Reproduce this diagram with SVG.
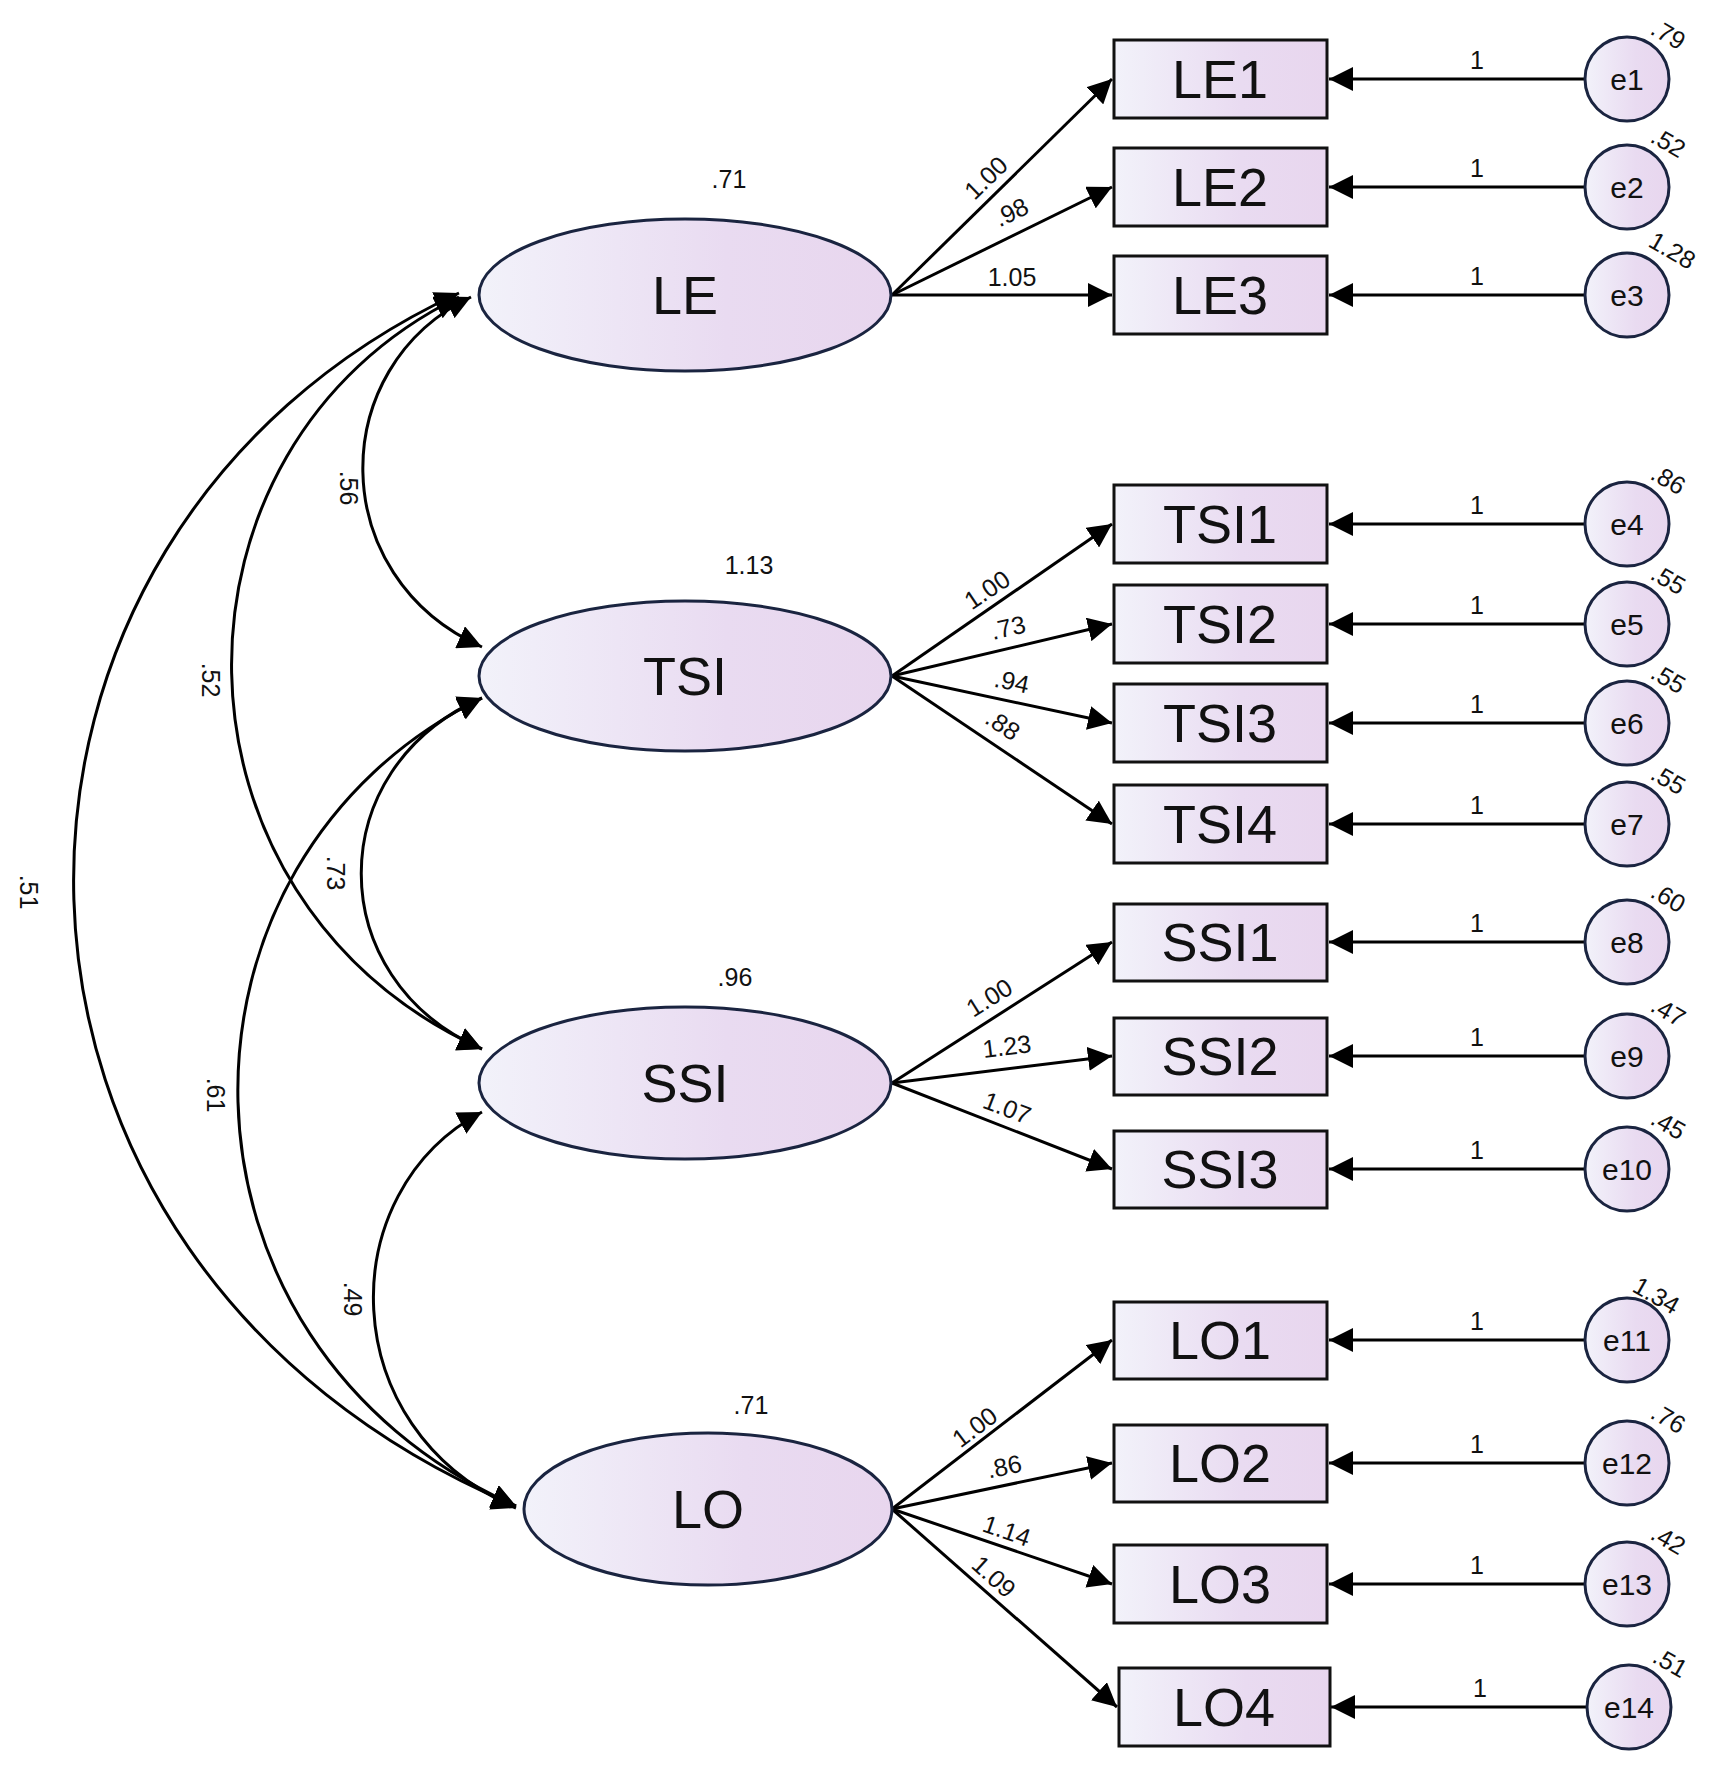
<svg xmlns="http://www.w3.org/2000/svg" width="1713" height="1778" viewBox="0 0 1713 1778">
<defs>
<linearGradient id="g" x1="0" y1="0" x2="1" y2="0"><stop offset="0" stop-color="#f2f2fa"/><stop offset="0.6" stop-color="#e9dbf1"/><stop offset="1" stop-color="#e8d6ee"/></linearGradient>
<marker id="ah" viewBox="0 0 10 10" refX="10" refY="5" markerWidth="24" markerHeight="24" markerUnits="userSpaceOnUse" orient="auto-start-reverse"><path d="M0,0 L10,5 L0,10 Z" fill="#000"/></marker>
<style>
.lat{fill:url(#g);stroke:#1a2440;stroke-width:3}
.box{fill:url(#g);stroke:#111;stroke-width:3}
.err{fill:url(#g);stroke:#1a2440;stroke-width:3}
.ln{stroke:#000;stroke-width:3;fill:none}
.big{font-family:"Liberation Sans",sans-serif;font-size:54px;text-anchor:middle;fill:#111}
.mid{font-family:"Liberation Sans",sans-serif;font-size:30px;text-anchor:middle;fill:#111}
.sm{font-family:"Liberation Sans",sans-serif;font-size:25px;text-anchor:middle;fill:#111}
</style>
</defs>
<rect width="1713" height="1778" fill="#fff"/>
<g id="connectors">
<!-- covariances -->
<path class="ln" d="M471,297 C325,367 325,577 482,647" marker-start="url(#ah)" marker-end="url(#ah)"/>
<path class="ln" d="M459,297 C152,447 152,899 482,1049" marker-start="url(#ah)" marker-end="url(#ah)"/>
<path class="ln" d="M459,293 C-64,536 -64,1263 516,1506" marker-start="url(#ah)" marker-end="url(#ah)"/>
<path class="ln" d="M482,698 C321,768 321,979 482,1049" marker-start="url(#ah)" marker-end="url(#ah)"/>
<path class="ln" d="M482,698 C151,860 151,1344 516,1506" marker-start="url(#ah)" marker-end="url(#ah)"/>
<path class="ln" d="M482,1112 C332,1191 332,1429 516,1508" marker-start="url(#ah)" marker-end="url(#ah)"/>
<g class="sm">
<text transform="translate(340,488) rotate(90)">.56</text>
<text transform="translate(202,680) rotate(90)">.52</text>
<text transform="translate(20,892) rotate(90)">.51</text>
<text transform="translate(327,873) rotate(90)">.73</text>
<text transform="translate(207,1095) rotate(90)">.61</text>
<text transform="translate(344,1299) rotate(90)">.49</text>
</g>
<!-- loadings -->
<line class="ln" x1="892" y1="295" x2="1112" y2="79" marker-end="url(#ah)"/>
<line class="ln" x1="892" y1="295" x2="1112" y2="187" marker-end="url(#ah)"/>
<line class="ln" x1="892" y1="295" x2="1112" y2="295" marker-end="url(#ah)"/>
<line class="ln" x1="892" y1="676" x2="1112" y2="524" marker-end="url(#ah)"/>
<line class="ln" x1="892" y1="676" x2="1112" y2="624" marker-end="url(#ah)"/>
<line class="ln" x1="892" y1="676" x2="1112" y2="723" marker-end="url(#ah)"/>
<line class="ln" x1="892" y1="676" x2="1112" y2="824" marker-end="url(#ah)"/>
<line class="ln" x1="892" y1="1083" x2="1112" y2="942" marker-end="url(#ah)"/>
<line class="ln" x1="892" y1="1083" x2="1112" y2="1056" marker-end="url(#ah)"/>
<line class="ln" x1="892" y1="1083" x2="1112" y2="1169" marker-end="url(#ah)"/>
<line class="ln" x1="892" y1="1509" x2="1112" y2="1340" marker-end="url(#ah)"/>
<line class="ln" x1="892" y1="1509" x2="1112" y2="1463" marker-end="url(#ah)"/>
<line class="ln" x1="892" y1="1509" x2="1112" y2="1584" marker-end="url(#ah)"/>
<line class="ln" x1="892" y1="1509" x2="1117" y2="1707" marker-end="url(#ah)"/>
<g class="sm">
<text transform="translate(992,184) rotate(-44)">1.00</text>
<text transform="translate(1015,220) rotate(-26)">.98</text>
<text transform="translate(1012,286)">1.05</text>
<text transform="translate(992,597) rotate(-34)">1.00</text>
<text transform="translate(1010,636) rotate(-13)">.73</text>
<text transform="translate(1010,690) rotate(12)">.94</text>
<text transform="translate(998,732) rotate(34)">.88</text>
<text transform="translate(994,1005) rotate(-32)">1.00</text>
<text transform="translate(1008,1055) rotate(-7)">1.23</text>
<text transform="translate(1004,1116) rotate(21)">1.07</text>
<text transform="translate(980,1434) rotate(-37)">1.00</text>
<text transform="translate(1006,1475) rotate(-12)">.86</text>
<text transform="translate(1004,1539) rotate(19)">1.14</text>
<text transform="translate(988,1583) rotate(42)">1.09</text>
</g>
<!-- errors -->
<line class="ln" x1="1585" y1="79" x2="1329" y2="79" marker-end="url(#ah)"/>
<line class="ln" x1="1585" y1="187" x2="1329" y2="187" marker-end="url(#ah)"/>
<line class="ln" x1="1585" y1="295" x2="1329" y2="295" marker-end="url(#ah)"/>
<line class="ln" x1="1585" y1="524" x2="1329" y2="524" marker-end="url(#ah)"/>
<line class="ln" x1="1585" y1="624" x2="1329" y2="624" marker-end="url(#ah)"/>
<line class="ln" x1="1585" y1="723" x2="1329" y2="723" marker-end="url(#ah)"/>
<line class="ln" x1="1585" y1="824" x2="1329" y2="824" marker-end="url(#ah)"/>
<line class="ln" x1="1585" y1="942" x2="1329" y2="942" marker-end="url(#ah)"/>
<line class="ln" x1="1585" y1="1056" x2="1329" y2="1056" marker-end="url(#ah)"/>
<line class="ln" x1="1585" y1="1169" x2="1329" y2="1169" marker-end="url(#ah)"/>
<line class="ln" x1="1585" y1="1340" x2="1329" y2="1340" marker-end="url(#ah)"/>
<line class="ln" x1="1585" y1="1463" x2="1329" y2="1463" marker-end="url(#ah)"/>
<line class="ln" x1="1585" y1="1584" x2="1329" y2="1584" marker-end="url(#ah)"/>
<line class="ln" x1="1587" y1="1707" x2="1331" y2="1707" marker-end="url(#ah)"/>
<g class="sm">
<text x="1477" y="69">1</text><text x="1477" y="177">1</text><text x="1477" y="285">1</text>
<text x="1477" y="514">1</text><text x="1477" y="614">1</text><text x="1477" y="713">1</text><text x="1477" y="814">1</text>
<text x="1477" y="932">1</text><text x="1477" y="1046">1</text><text x="1477" y="1159">1</text>
<text x="1477" y="1330">1</text><text x="1477" y="1453">1</text><text x="1477" y="1574">1</text><text x="1480" y="1697">1</text>
</g>
</g>
<g id="LE"><ellipse class="lat" cx="685" cy="295" rx="206" ry="76"/><text class="big" x="685" y="314">LE</text><text class="sm" x="729" y="188">.71</text></g>
<g id="TSI"><ellipse class="lat" cx="685" cy="676" rx="206" ry="75"/><text class="big" x="685" y="695">TSI</text><text class="sm" x="749" y="574">1.13</text></g>
<g id="SSI"><ellipse class="lat" cx="685" cy="1083" rx="206" ry="76"/><text class="big" x="685" y="1102">SSI</text><text class="sm" x="735" y="986">.96</text></g>
<g id="LO"><ellipse class="lat" cx="708" cy="1509" rx="184" ry="76"/><text class="big" x="708" y="1528">LO</text><text class="sm" x="751" y="1414">.71</text></g>
<g id="LE1"><rect class="box" x="1114" y="40" width="213" height="78"/><text class="big" x="1220" y="98">LE1</text></g>
<g id="LE2"><rect class="box" x="1114" y="148" width="213" height="78"/><text class="big" x="1220" y="206">LE2</text></g>
<g id="LE3"><rect class="box" x="1114" y="256" width="213" height="78"/><text class="big" x="1220" y="314">LE3</text></g>
<g id="TSI1"><rect class="box" x="1114" y="485" width="213" height="78"/><text class="big" x="1220" y="543">TSI1</text></g>
<g id="TSI2"><rect class="box" x="1114" y="585" width="213" height="78"/><text class="big" x="1220" y="643">TSI2</text></g>
<g id="TSI3"><rect class="box" x="1114" y="684" width="213" height="78"/><text class="big" x="1220" y="742">TSI3</text></g>
<g id="TSI4"><rect class="box" x="1114" y="785" width="213" height="78"/><text class="big" x="1220" y="843">TSI4</text></g>
<g id="SSI1"><rect class="box" x="1114" y="904" width="213" height="77"/><text class="big" x="1220" y="961">SSI1</text></g>
<g id="SSI2"><rect class="box" x="1114" y="1018" width="213" height="77"/><text class="big" x="1220" y="1075">SSI2</text></g>
<g id="SSI3"><rect class="box" x="1114" y="1131" width="213" height="77"/><text class="big" x="1220" y="1188">SSI3</text></g>
<g id="LO1"><rect class="box" x="1114" y="1302" width="213" height="77"/><text class="big" x="1220" y="1359">LO1</text></g>
<g id="LO2"><rect class="box" x="1114" y="1425" width="213" height="77"/><text class="big" x="1220" y="1482">LO2</text></g>
<g id="LO3"><rect class="box" x="1114" y="1545" width="213" height="78"/><text class="big" x="1220" y="1603">LO3</text></g>
<g id="LO4"><rect class="box" x="1119" y="1668" width="211" height="78"/><text class="big" x="1224" y="1726">LO4</text></g>
<g id="e1"><circle class="err" cx="1627" cy="79" r="42"/><text class="mid" x="1627" y="90">e1</text><text class="sm" transform="translate(1664,42) rotate(30)">.79</text></g>
<g id="e2"><circle class="err" cx="1627" cy="187" r="42"/><text class="mid" x="1627" y="198">e2</text><text class="sm" transform="translate(1664,150) rotate(30)">.52</text></g>
<g id="e3"><circle class="err" cx="1627" cy="295" r="42"/><text class="mid" x="1627" y="306">e3</text><text class="sm" transform="translate(1668,258) rotate(30)">1.28</text></g>
<g id="e4"><circle class="err" cx="1627" cy="524" r="42"/><text class="mid" x="1627" y="535">e4</text><text class="sm" transform="translate(1664,487) rotate(30)">.86</text></g>
<g id="e5"><circle class="err" cx="1627" cy="624" r="42"/><text class="mid" x="1627" y="635">e5</text><text class="sm" transform="translate(1664,587) rotate(30)">.55</text></g>
<g id="e6"><circle class="err" cx="1627" cy="723" r="42"/><text class="mid" x="1627" y="734">e6</text><text class="sm" transform="translate(1664,686) rotate(30)">.55</text></g>
<g id="e7"><circle class="err" cx="1627" cy="824" r="42"/><text class="mid" x="1627" y="835">e7</text><text class="sm" transform="translate(1664,787) rotate(30)">.55</text></g>
<g id="e8"><circle class="err" cx="1627" cy="942" r="42"/><text class="mid" x="1627" y="953">e8</text><text class="sm" transform="translate(1664,905) rotate(30)">.60</text></g>
<g id="e9"><circle class="err" cx="1627" cy="1056" r="42"/><text class="mid" x="1627" y="1067">e9</text><text class="sm" transform="translate(1664,1019) rotate(30)">.47</text></g>
<g id="e10"><circle class="err" cx="1627" cy="1169" r="42"/><text class="mid" x="1627" y="1180">e10</text><text class="sm" transform="translate(1664,1132) rotate(30)">.45</text></g>
<g id="e11"><circle class="err" cx="1627" cy="1340" r="42"/><text class="mid" x="1627" y="1351">e11</text><text class="sm" transform="translate(1652,1303) rotate(30)">1.34</text></g>
<g id="e12"><circle class="err" cx="1627" cy="1463" r="42"/><text class="mid" x="1627" y="1474">e12</text><text class="sm" transform="translate(1664,1426) rotate(30)">.76</text></g>
<g id="e13"><circle class="err" cx="1627" cy="1584" r="42"/><text class="mid" x="1627" y="1595">e13</text><text class="sm" transform="translate(1664,1547) rotate(30)">.42</text></g>
<g id="e14"><circle class="err" cx="1629" cy="1707" r="42"/><text class="mid" x="1629" y="1718">e14</text><text class="sm" transform="translate(1666,1670) rotate(30)">.51</text></g>
</svg>
